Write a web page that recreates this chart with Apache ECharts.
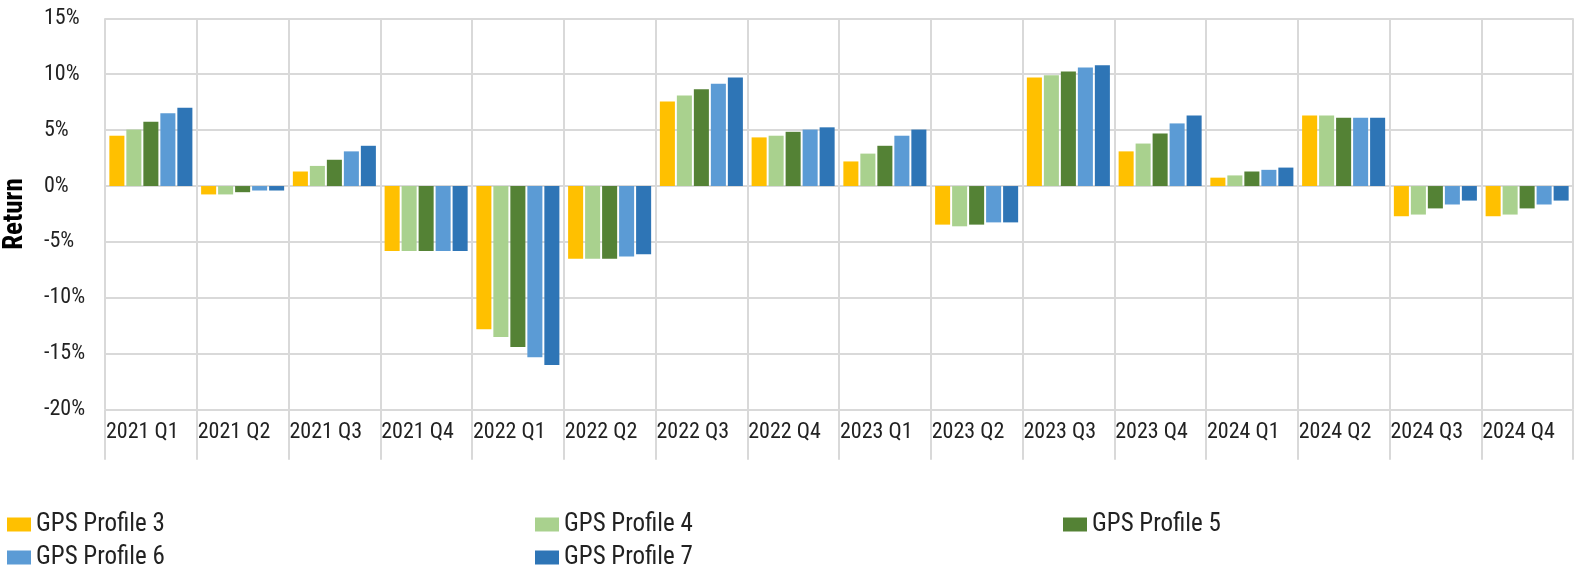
<!DOCTYPE html>
<html>
<head>
<meta charset="utf-8">
<script src="https://cdn.jsdelivr.net/npm/echarts@6/dist/echarts.min.js"></script>
<style>
html,body{margin:0;padding:0;background:#fff;}
#chart{width:1574px;height:573px;}
</style>
</head>
<body>
<div id="chart"></div>
<script>
const categories = ['2021 Q1','2021 Q2','2021 Q3','2021 Q4','2022 Q1','2022 Q2','2022 Q3','2022 Q4','2023 Q1','2023 Q2','2023 Q3','2023 Q4','2024 Q1','2024 Q2','2024 Q3','2024 Q4'];
const seriesNames = ['GPS Profile 3','GPS Profile 4','GPS Profile 5','GPS Profile 6','GPS Profile 7'];
const profile3 = [4.5, -0.75, 1.3, -5.8, -12.8, -6.5, 7.55, 4.35, 2.2, -3.45, 9.7, 3.1, 0.75, 6.3, -2.7, -2.7];
const profile4 = [5.05, -0.75, 1.8, -5.8, -13.5, -6.5, 8.1, 4.5, 2.9, -3.6, 9.9, 3.8, 0.95, 6.3, -2.55, -2.55];
const profile5 = [5.75, -0.55, 2.35, -5.8, -14.4, -6.5, 8.65, 4.85, 3.6, -3.45, 10.25, 4.7, 1.3, 6.1, -2.0, -2.0];
const profile6 = [6.5, -0.4, 3.1, -5.8, -15.3, -6.3, 9.15, 5.05, 4.5, -3.25, 10.6, 5.6, 1.45, 6.1, -1.65, -1.65];
const profile7 = [7.0, -0.4, 3.6, -5.8, -16.0, -6.1, 9.7, 5.25, 5.05, -3.25, 10.8, 6.3, 1.65, 6.1, -1.3, -1.3];
const yTicks = [-20, -15, -10, -5, 0, 5, 10, 15];

const values = [profile3, profile4, profile5, profile6, profile7];
const colors = ['#FFC000', '#A9D18E', '#548235', '#5B9BD5', '#2E75B6'];
const FONT = '"Liberation Sans Narrow", "Arial Narrow", "Roboto Condensed", "Liberation Sans", sans-serif';
const gridColor = '#D9D9D9';

const chart = echarts.init(document.getElementById('chart'), null, {renderer: 'canvas'});

const legendPos = [
  {left: 2, top: 507},
  {left: 530, top: 507},
  {left: 1058, top: 507},
  {left: 2, top: 540},
  {left: 530, top: 540}
];

const option = {
  animation: false,
  color: colors,
  textStyle: {fontFamily: FONT},
  grid: {left: 105, right: 1, top: 18.3, bottom: 163.3, containLabel: false, outerBoundsMode: 'none'},
  legend: legendPos.map((p, i) => ({
    left: p.left, top: p.top,
    data: [seriesNames[i]],
    icon: 'rect', itemWidth: 24, itemHeight: 14, itemGap: 0,
    textStyle: {fontFamily: FONT, fontSize: 25, color: '#222'}
  })),
  xAxis: [
    {
      type: 'category', data: categories, boundaryGap: true,
      axisLine: {show: false, onZero: false},
      axisTick: {show: true, interval: 0, length: 50, lineStyle: {color: gridColor, width: 2}},
      axisLabel: {show: false},
      splitLine: {show: true, interval: 0, lineStyle: {color: gridColor, width: 2}}
    },
    {
      type: 'category', data: categories.concat(['']), boundaryGap: false, position: 'bottom',
      axisLine: {show: false, onZero: false},
      axisTick: {show: false},
      splitLine: {show: false},
      axisLabel: {show: true, interval: 0, align: 'left', margin: 12, fontFamily: FONT, fontSize: 22, color: '#222', padding: [0,0,0,1]}
    }
  ],
  yAxis: {
    type: 'value', min: yTicks[0], max: yTicks[yTicks.length - 1], interval: 5,
    name: 'Return', nameLocation: 'middle', nameRotate: 90, nameGap: 76,
    nameTextStyle: {fontFamily: FONT, fontSize: 27, fontWeight: 'bold', color: '#000'},
    axisLine: {show: false}, axisTick: {show: false},
    axisLabel: {align: 'left', margin: 61, fontFamily: FONT, fontSize: 22, color: '#222', formatter: v => v + '%'},
    splitLine: {show: true, lineStyle: {color: gridColor, width: 2}}
  },
  series: seriesNames.map((n, i) => ({
    name: n, type: 'bar', xAxisIndex: 0, data: values[i],
    barGap: '13%', barCategoryGap: '9.5%',
    itemStyle: {color: colors[i]}
  }))
};
chart.setOption(option);
</script>
</body>
</html>
